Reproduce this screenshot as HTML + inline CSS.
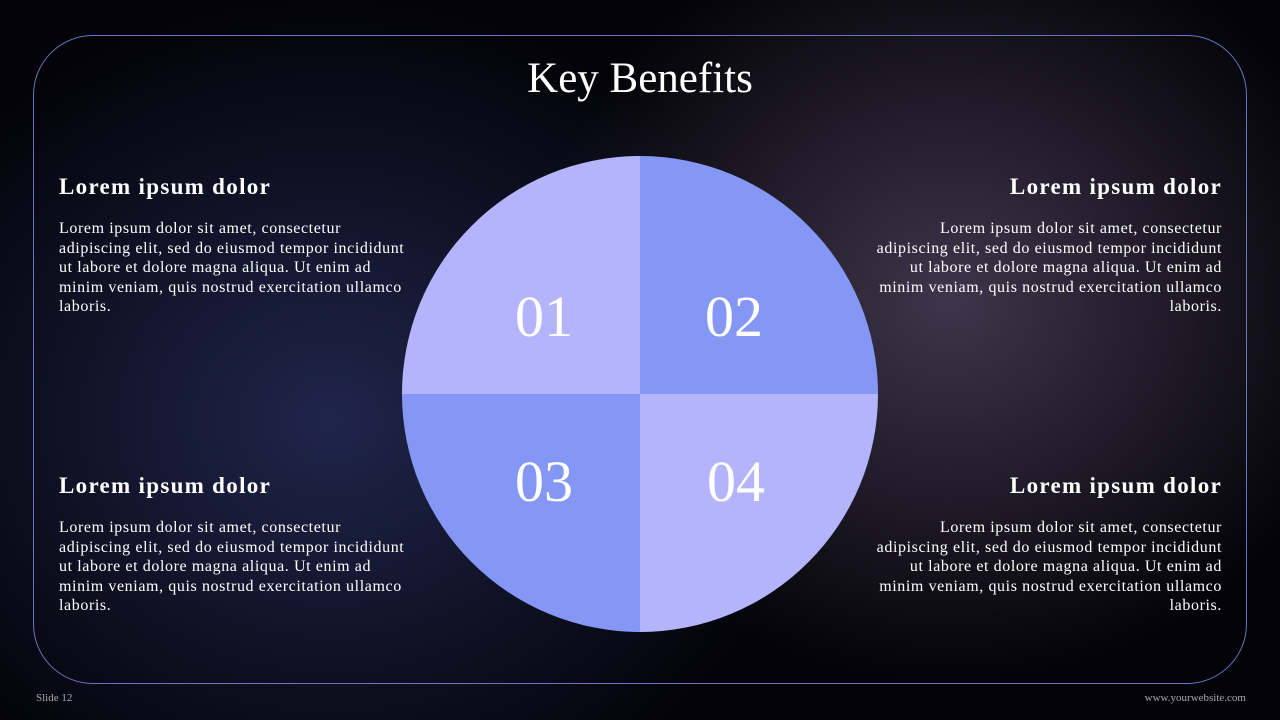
<!DOCTYPE html>
<html><head><style>
body{margin:0;width:1280px;height:720px;overflow:hidden;background:#000;font-family:"Liberation Serif",serif;color:#fff;position:relative}
.bg{position:absolute;inset:0;background:
radial-gradient(ellipse 420px 380px at 950px 300px,rgba(110,95,130,0.55),rgba(0,0,0,0) 100%),
radial-gradient(ellipse 480px 420px at 330px 420px,rgba(50,60,120,0.6),rgba(0,0,0,0) 100%),#030308}
.frame{position:absolute;left:33px;top:35px;width:1214px;height:649px;border:1px solid #6c72c0;border-radius:60px;box-sizing:border-box}
h1{position:absolute;top:54px;left:0;width:1280px;text-align:center;margin:0;font-weight:normal;font-size:43px}
.blk{position:absolute;width:370px;white-space:nowrap}
.blk h3{margin:0;font-size:23px;letter-spacing:1.3px;font-weight:bold;line-height:24px}
.blk p{margin:20px 0 0;font-size:16px;letter-spacing:0.6px;line-height:19.5px}
.r{text-align:right}
.foot{position:absolute;top:692px;font-size:11px;color:#aaa}
.num{font-size:58px;fill:#fff;font-family:"Liberation Serif",serif}
</style></head><body>
<div class="bg"></div>
<div class="frame"></div>
<h1>Key Benefits</h1>
<div class="blk" style="left:59px;top:175px"><h3>Lorem ipsum dolor</h3><p>Lorem ipsum dolor sit amet, consectetur<br>adipiscing elit, sed do eiusmod tempor incididunt<br>ut labore et dolore magna aliqua. Ut enim ad<br>minim veniam, quis nostrud exercitation ullamco<br>laboris.</p></div>
<div class="blk r" style="left:852px;top:175px"><h3>Lorem ipsum dolor</h3><p>Lorem ipsum dolor sit amet, consectetur<br>adipiscing elit, sed do eiusmod tempor incididunt<br>ut labore et dolore magna aliqua. Ut enim ad<br>minim veniam, quis nostrud exercitation ullamco<br>laboris.</p></div>
<div class="blk" style="left:59px;top:474px"><h3>Lorem ipsum dolor</h3><p>Lorem ipsum dolor sit amet, consectetur<br>adipiscing elit, sed do eiusmod tempor incididunt<br>ut labore et dolore magna aliqua. Ut enim ad<br>minim veniam, quis nostrud exercitation ullamco<br>laboris.</p></div>
<div class="blk r" style="left:852px;top:474px"><h3>Lorem ipsum dolor</h3><p>Lorem ipsum dolor sit amet, consectetur<br>adipiscing elit, sed do eiusmod tempor incididunt<br>ut labore et dolore magna aliqua. Ut enim ad<br>minim veniam, quis nostrud exercitation ullamco<br>laboris.</p></div>
<svg style="position:absolute;left:0;top:0" width="1280" height="720">
<path d="M640 394 L640 156 A238 238 0 0 0 402 394 Z" fill="#b4b4fc"/>
<path d="M640 394 L640 156 A238 238 0 0 1 878 394 Z" fill="#8597f4"/>
<path d="M640 394 L402 394 A238 238 0 0 0 640 632 Z" fill="#8597f4"/>
<path d="M640 394 L878 394 A238 238 0 0 1 640 632 Z" fill="#b4b4fc"/>
<text class="num" x="544" y="336" text-anchor="middle">01</text>
<text class="num" x="734" y="336" text-anchor="middle">02</text>
<text class="num" x="544" y="501" text-anchor="middle">03</text>
<text class="num" x="736" y="501" text-anchor="middle">04</text>
</svg>
<div class="foot" style="left:36px">Slide 12</div>
<div class="foot" style="right:34px">www.yourwebsite.com</div>
</body></html>
